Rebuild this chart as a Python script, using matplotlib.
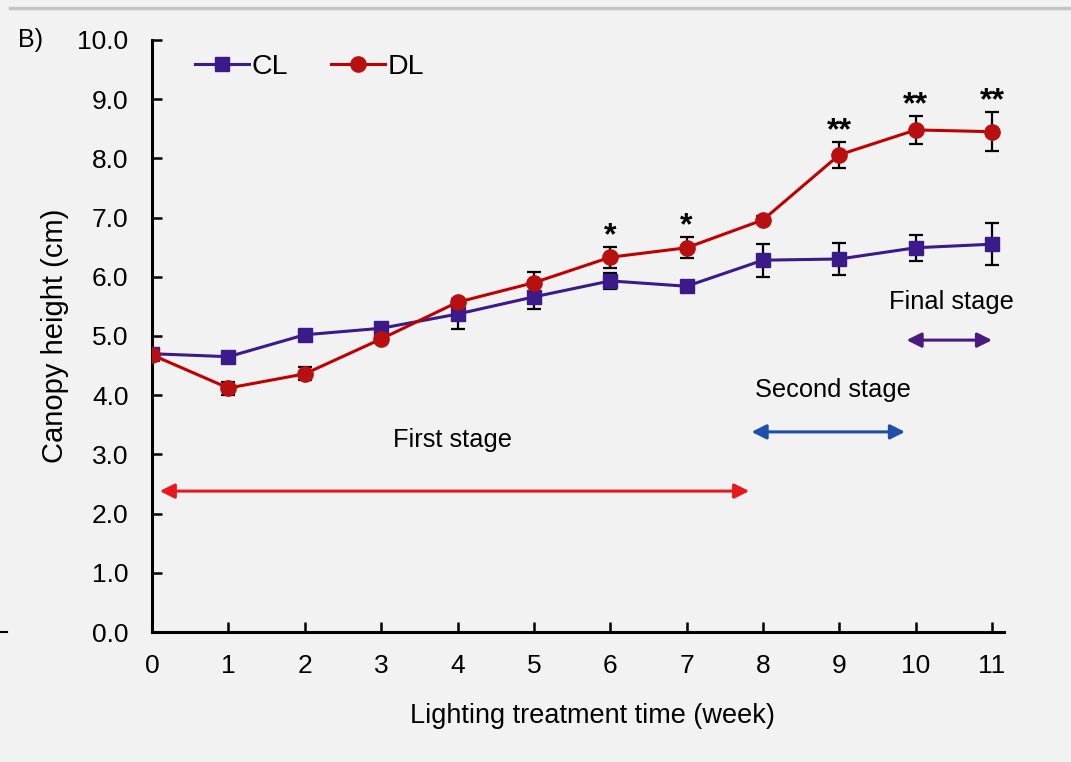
import matplotlib.pyplot as plt
from matplotlib.lines import Line2D

plt.rcParams['font.family'] = ['Liberation Sans', 'DejaVu Sans']

weeks = [0, 1, 2, 3, 4, 5, 6, 7, 8, 9, 10, 11]

cl_height = [4.70, 4.65, 5.02, 5.13, 5.37, 5.66, 5.93, 5.84, 6.28, 6.30, 6.49, 6.55]
cl_err = [0.06, 0.06, 0.06, 0.07, 0.25, 0.20, 0.13, 0.06, 0.28, 0.27, 0.22, 0.35]

dl_height = [4.68, 4.12, 4.36, 4.95, 5.57, 5.90, 6.33, 6.49, 6.96, 8.06, 8.48, 8.45]
dl_err = [0.06, 0.11, 0.11, 0.06, 0.06, 0.18, 0.18, 0.18, 0.06, 0.22, 0.24, 0.33]

# significance marks above DL
sig_weeks = [6, 7, 9, 10, 11]
sig_marks = ['*', '*', '**', '**', '**']

# stage arrows: (start, end, height, label x, label y, label, colour)
stages = [
    (0.1, 7.82, 2.38, 3.94, 3.24, 'First stage', '#e8191e'),
    (7.85, 9.86, 3.38, 8.92, 4.09, 'Second stage', '#1f4fa8'),
    (9.88, 11.0, 4.93, 10.47, 5.57, 'Final stage', '#4b1a80'),
]

cl_color = '#3b1a8a'
dl_color = '#c00000'
bg = '#f2f2f2'

fig = plt.figure(figsize=(10.71, 7.62), dpi=100, facecolor=bg)
ax = fig.add_axes([0.142, 0.1706, 0.795, 0.777], facecolor=bg)

ax.errorbar(weeks, cl_height, yerr=cl_err, fmt='none', ecolor='black',
            elinewidth=1.6, capsize=5, capthick=1.6, zorder=2)
ax.errorbar(weeks, dl_height, yerr=dl_err, fmt='none', ecolor='black',
            elinewidth=1.6, capsize=5, capthick=1.6, zorder=2)
ax.plot(weeks, cl_height, '-s', color=cl_color, lw=2.2, ms=10.5,
        label='CL', zorder=3)
ax.plot(weeks, dl_height, '-o', color=dl_color, mfc='#b81010', mec='#b81010',
        lw=2.2, ms=11, label='DL', zorder=4)

for w, m in zip(sig_weeks, sig_marks):
    top = dl_height[w] + dl_err[w]
    ax.text(w, top + 0.18, m, ha='center', va='center', fontsize=23,
            fontweight='bold')

for x0, x1, y, tx, ty, label, c in stages:
    ax.annotate('', xy=(x1, y), xytext=(x0, y),
                arrowprops=dict(arrowstyle='<|-|>', color=c, lw=2.2,
                                mutation_scale=22, shrinkA=0, shrinkB=0))
    ax.text(tx, ty, label, ha='center', va='center', fontsize=18.3)

ax.set_xlim(0, 11.15)
ax.set_ylim(0, 10)
ax.set_xticks(weeks)
ax.set_yticks([i * 1.0 for i in range(11)])
ax.set_yticklabels(['%.1f' % (i * 1.0) for i in range(11)])
ax.tick_params(direction='in', length=7, width=1.8, labelsize=19)
ax.tick_params(axis='y', pad=17)
ax.tick_params(axis='x', pad=16)
for side in ['top', 'right']:
    ax.spines[side].set_visible(False)
for side in ['left', 'bottom']:
    ax.spines[side].set_linewidth(2.2)

ax.set_xlabel('Lighting treatment time (week)', fontsize=19.5)
ax.xaxis.set_label_coords(0.517, -0.12)
ax.set_ylabel('Canopy height (cm)', fontsize=21, labelpad=6)

ax.legend(loc='upper left', bbox_to_anchor=(0.02, 1.02), ncol=2, frameon=False,
          fontsize=20.5, handlelength=1.9, handletextpad=0.1, columnspacing=1.5)

fig.text(0.017, 0.948, 'B)', fontsize=18, va='center')

# thin frame pieces around the panel
fig.add_artist(Line2D([0.009, 1.0], [0.99, 0.99], color='#c4c4c4', lw=2.5))
fig.add_artist(Line2D([0.0, 0.007], [0.1706, 0.1706], color='black', lw=1.5))

fig.savefig('out.png', dpi=100, facecolor=bg)
